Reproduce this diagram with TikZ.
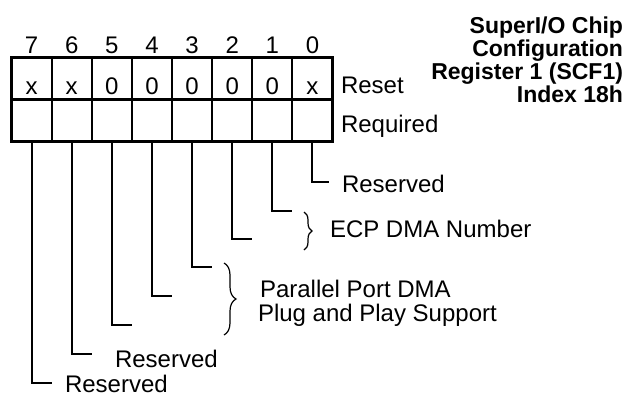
\documentclass[tikz,border=0pt]{standalone}
\usepackage{fontspec}
\setmainfont{Liberation Sans}
\usetikzlibrary{decorations.pathreplacing}
\begin{document}
\begin{tikzpicture}[x=1pt,y=-1pt,
  cell/.style={draw, line width=2pt, minimum width=40.125pt, minimum height=42pt, inner sep=0pt, outer sep=0pt},
  txt/.style={inner sep=0pt, outer sep=0pt, font=\fontsize{24}{24}\selectfont},
  ttl/.style={inner sep=0pt, outer sep=0pt, anchor=base east, font=\fontsize{23}{23}\selectfont\bfseries},
  leg/.style={line width=2pt},
  brc/.style={decorate, line width=1.2pt, decoration={brace, amplitude=#1}}]
\useasboundingbox (0,0) rectangle (630,400);
% register cells, values and bit numbers
\foreach \b/\v [count=\k from 0] in {7/x,6/x,5/0,4/0,3/0,2/0,1/0,0/x} {
  \node[cell] (a\b) at ({31.5625+40.125*\k},78) {};
  \node[cell] (r\b) at ({31.5625+40.125*\k},120) {};
  \node[txt, anchor=base] (v\b) at ({31.5625+40.125*\k},94) {\v};
  \node[txt, anchor=base] (n\b) at ({31.5625+40.125*\k},53) {\b};
}
\draw[line width=3pt] (a7.north west) rectangle (r0.south east);
\draw[line width=3pt] (r7.north west) -- (r0.north east);
\node[txt, anchor=base west] (reset) at (341,93) {Reset};
\node[txt, anchor=base west] (req) at (341,132) {Required};
% title
\node[ttl] (t1) at (623,33) {SuperI/O Chip};
\node[ttl] (t2) at (623,56) {Configuration};
\node[ttl] (t3) at (623,79) {Register 1 (SCF1)};
\node[ttl] (t4) at (623,102) {Index 18h};
% hook ends
\foreach \b/\hy/\len in {0/182/17,1/211/20,2/239/20,3/267/20,4/296/20,5/325/20,6/354/20,7/383/20} {
  \path (r\b.south) ++(\len,0) coordinate (tmp);
  \coordinate (h\b) at (tmp |- 0,\hy);
  \draw[leg] (r\b.south) |- (h\b);
}
% labels
\node[txt, anchor=base west] (res0) at (342,192) {Reserved};
\node[txt, anchor=base west] (ecp) at (330,237) {ECP DMA Number};
\node[txt, anchor=base west] (par1) at (260,297) {Parallel Port DMA};
\node[txt, anchor=base west] (par2) at (258,321) {Plug and Play Support};
\node[txt, anchor=base west] (res6) at (115,367) {Reserved};
\node[txt, anchor=base west] (res7) at (65,392) {Reserved};
% braces
\draw[brc=8pt] (304,212) -- (304,250);
\draw[brc=12pt] (224,263) -- (224,335);
\end{tikzpicture}
\end{document}
